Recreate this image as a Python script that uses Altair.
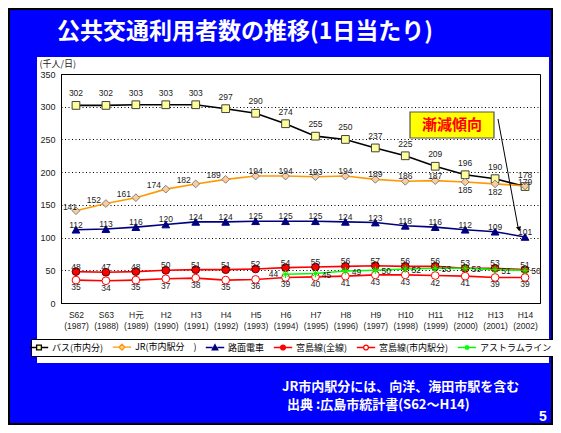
import altair as alt
import pandas as pd

# ---------------- data ----------------
eras = ["S62", "S63", "H元", "H2", "H3", "H4", "H5", "H6", "H7", "H8",
        "H9", "H10", "H11", "H12", "H13", "H14"]
years = ["(1987)", "(1988)", "(1989)", "(1990)", "(1991)", "(1992)", "(1993)",
         "(1994)", "(1995)", "(1996)", "(1997)", "(1998)", "(1999)", "(2000)",
         "(2001)", "(2002)"]
series_names = ["バス(市内分)", "JR(市内駅分　)", "路面電車", "宮島線(全線)",
                "宮島線(市内駅分)", "アストラムライン"]
bus = [302, 302, 303, 303, 303, 297, 290, 274, 255, 250, 237, 225, 209, 196, 190, 178]
jr = [141, 152, 161, 174, 182, 189, 194, 194, 193, 194, 189, 186, 187, 185, 182, 179]
tram = [112, 113, 116, 120, 124, 124, 125, 125, 125, 124, 123, 118, 116, 112, 109, 101]
miya_all = [48, 47, 48, 50, 51, 51, 52, 54, 55, 56, 57, 56, 56, 53, 53, 51]
miya_city = [35, 34, 35, 37, 38, 35, 36, 39, 40, 41, 43, 43, 42, 41, 39, 39]
astram = [None, None, None, None, None, None, None, 44, 45, 49, 50, 52, 53, 53, 51, 50]

title_text = "公共交通利用者数の推移(1日当たり)"
note1 = "JR市内駅分には、向洋、海田市駅を含む"
note2 = "出典 :広島市統計書(S62～H14)"
page_no = "5"
callout = "漸減傾向"

# ---------------- styles ----------------
line_colors = ["#000000", "#FF9900", "#000080", "#FF0000", "#FF0000", "#00FF00"]
fill_colors = ["#FFFF99", "#FFCC99", "#000080", "#FF0000", "#FFFFFF", "transparent"]
mstroke_colors = ["#404040", "#808080", "#000080", "#600000", "#FF0000", "#00FF00"]
aster = "M-1,0H1M0,-1V1M-0.7,-0.7L0.7,0.7M-0.7,0.7L0.7,-0.7"
plot_shapes = ["square", "diamond", "triangle-up", "circle", "circle", aster]
seg = "M-2.3,0H-0.62M0.62,0H2.3"
legend_shapes = [
    seg + "M-0.6,-0.6H0.6V0.6H-0.6Z",
    seg + "M0,-0.75L0.75,0L0,0.75L-0.75,0Z",
    seg + "M0,-0.7L0.7,0.6H-0.7Z",
    seg + "M-0.6,0A0.6,0.6 0 1,0 0.6,0A0.6,0.6 0 1,0 -0.6,0Z",
    seg + "M-0.6,0A0.6,0.6 0 1,0 0.6,0A0.6,0.6 0 1,0 -0.6,0Z",
    "M-2.3,0H2.3M0,-0.6V0.6M-0.45,-0.45L0.45,0.45M-0.45,0.45L0.45,-0.45",
]

CJK = "Noto Sans CJK JP"
NUM = "Liberation Sans, Noto Sans CJK JP"
W, H = 479, 229

cats = [e + "|" + y for e, y in zip(eras, years)]
rows = []
for s, vals in zip(series_names, [bus, jr, tram, miya_all, miya_city, astram]):
    for i, v in enumerate(vals):
        if v is not None:
            rows.append({"cat": cats[i], "series": s, "value": v, "idx": i})
df = pd.DataFrame(rows)

X = alt.X("cat:N", sort=cats,
          scale=alt.Scale(type="point", padding=0.5),
          axis=alt.Axis(title=None, labelExpr="split(datum.label, '|')",
                        labelAngle=0, ticks=False, domainColor="black",
                        labelFont=NUM, labelFontSize=8.5, labelColor="#222",
                        labelPadding=7, labelLineHeight=11))
Y = alt.Y("value:Q", scale=alt.Scale(domain=[0, 350], nice=False),
          axis=alt.Axis(values=list(range(0, 351, 50)), title="(千人/日)",
                        titleAngle=0, titleX=-22, titleY=-11, titleAlign="left",
                        titleBaseline="middle", titleFont=CJK, titleFontSize=9,
                        titleFontWeight="normal", titleColor="#222",
                        grid=True, gridColor="black", gridDash=[1, 2.5],
                        ticks=False, labelPadding=6, labelFont=NUM,
                        labelFontSize=9, labelColor="#222", domainColor="black"))

one = alt.Data(values=[{"k": 1}])


def rect(x, x2, y, y2, **kw):
    return alt.Chart(one).mark_rect(**kw).encode(
        x=alt.value(x), x2=alt.value(x2), y=alt.value(y), y2=alt.value(y2))


def text(t, x, y, **kw):
    return alt.Chart(one).mark_text(**kw).encode(
        x=alt.value(x), y=alt.value(y), text=alt.value(t))


BLUE = "#0000FF"
deco = [
    rect(-53, 492, -66, -17, fill=BLUE),
    rect(-53, -24, -17, 289, fill=BLUE),
    rect(488, 492, -17, 289, fill=BLUE),
    rect(-53, 492, 289, 351, fill=BLUE),
    rect(-52, 491, -65, 350, fill="transparent", stroke="black", strokeWidth=2),
    text(title_text, -4, -42, align="left", baseline="middle", font=CJK,
         fontSize=23, fontWeight="bold", color="white"),
    text(note1, 221, 313, align="left", baseline="middle", font=CJK,
         fontSize=13, fontWeight="bold", color="white"),
    text(note2, 226, 331, align="left", baseline="middle", font=CJK,
         fontSize=13, fontWeight="bold", color="white"),
    text(page_no, 482, 343, align="center", baseline="middle", font=NUM,
         fontSize=14, fontWeight="bold", color="white"),
]

lines = alt.Chart(df).mark_line(strokeWidth=1.6).encode(
    x=X, y=Y,
    color=alt.Color("series:N", scale=alt.Scale(domain=series_names, range=line_colors),
                    legend=None),
    detail="series:N")

points = alt.Chart(df).mark_point(filled=True, opacity=1, size=60, strokeWidth=1).encode(
    x=X, y=Y,
    shape=alt.Shape("series:N", scale=alt.Scale(domain=series_names, range=plot_shapes),
                    legend=None),
    fill=alt.Fill("series:N", scale=alt.Scale(domain=series_names, range=fill_colors),
                  legend=None),
    stroke=alt.Stroke("series:N", scale=alt.Scale(domain=series_names, range=mstroke_colors),
                      legend=None))


def labels(si, idxs, dx, dy):
    return alt.Chart(df).transform_filter(
        alt.FieldEqualPredicate(field="series", equal=series_names[si])
    ).transform_filter(
        alt.FieldOneOfPredicate(field="idx", oneOf=idxs)
    ).mark_text(dx=dx, dy=dy, font=NUM, fontSize=8.5, color="#222").encode(
        x=X, y=Y, text="value:Q")


allidx = list(range(16))
label_layers = [
    labels(0, allidx, 0, -12),
    labels(1, [0], -6, -4),
    labels(1, [1, 2, 3, 4, 5], -12, -4),
    labels(1, [6, 7, 8, 9, 10, 11, 12], 0, -5),
    labels(1, [13, 14], 0, 8),
    labels(1, [15], 0, -4),
    labels(2, allidx, 0, -5),
    labels(3, allidx, 0, -5),
    labels(4, allidx, 0, 7),
    labels(5, [7], -12, 0),
    labels(5, list(range(8, 16)), 11, 1),
]

leg = alt.Legend(title=None, orient="none", legendX=-30, legendY=265,
                 direction="horizontal", columns=6, labelFont=CJK,
                 labelFontSize=9, labelColor="black", symbolSize=64,
                 symbolStrokeWidth=1.3, labelOffset=8, columnPadding=6,
                 padding=3, strokeColor="black", fillColor="white",
                 symbolOpacity=1)
legend_layer = alt.Chart(df).transform_filter("datum.value < 0").mark_point(
    filled=True, opacity=1, size=60).encode(
    x=X, y=Y,
    shape=alt.Shape("series:N", scale=alt.Scale(domain=series_names, range=legend_shapes),
                    legend=leg),
    fill=alt.Fill("series:N", scale=alt.Scale(domain=series_names, range=fill_colors),
                  legend=leg),
    stroke=alt.Stroke("series:N", scale=alt.Scale(domain=series_names, range=line_colors),
                      legend=leg))

annot = [
    rect(349, 433, 38, 64, fill="#FFFF00", stroke="#555555", strokeWidth=1.2),
    text(callout, 391, 51, align="center", baseline="middle", font=CJK,
         fontSize=15, fontWeight="bold", color="#FF0000"),
    alt.Chart(one).mark_rule(color="black", strokeWidth=1).encode(
        x=alt.value(437), y=alt.value(45), x2=alt.value(457), y2=alt.value(153)),
    alt.Chart(one).mark_point(shape="triangle-down", filled=True, color="black",
                              size=28, angle=349, opacity=1).encode(
        x=alt.value(458), y=alt.value(155)),
]

chart = alt.layer(*deco, lines, points, *label_layers, *annot, legend_layer).resolve_scale(
    color="independent", fill="independent", stroke="independent", shape="independent"
).properties(
    width=W, height=H, background="white",
    padding={"left": 53, "top": 66, "right": 13, "bottom": 122},
    autosize=alt.AutoSizeParams(type="none"),
).configure_view(stroke="black", strokeWidth=1)

chart.save("out.html", embed_options={"renderer": "svg", "actions": False})
